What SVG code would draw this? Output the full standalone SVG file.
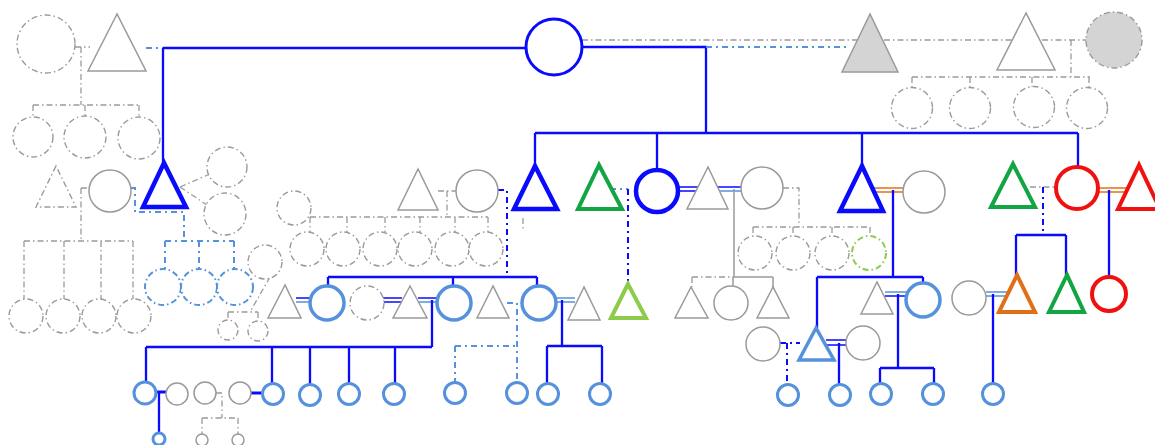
<svg xmlns="http://www.w3.org/2000/svg" width="1155" height="445" viewBox="0 0 1155 445">
  <style>
    .g   { fill: #fff; stroke: #9a9a9a; stroke-width: 1.5; }
    .gf  { fill: #d4d4d4; stroke: #9a9a9a; stroke-width: 1.5; }
    .gd  { fill: #fff; stroke: #9a9a9a; stroke-width: 1.4; stroke-dasharray: 6 3 1.5 3; }
    .gfd { fill: #d4d4d4; stroke: #9a9a9a; stroke-width: 1.4; stroke-dasharray: 6 3 1.5 3; }
    .lgd { fill: #fff; stroke: #8dcc4a; stroke-width: 2; stroke-dasharray: 6 3 1.5 3; }
    .b   { fill: #fff; stroke: #0a0aff; stroke-width: 4.5; }
    .bt  { fill: #fff; stroke: #0a0aff; stroke-width: 3; }
    .lb  { fill: #fff; stroke: #5591dc; stroke-width: 3.5; }
    .lbs { fill: #fff; stroke: #5591dc; stroke-width: 3; }
    .lbd { fill: #fff; stroke: #5591dc; stroke-width: 2; stroke-dasharray: 6 3 1.5 3; }
    .gr  { fill: #fff; stroke: #12a544; stroke-width: 4; }
    .lg  { fill: #fff; stroke: #8dcc4a; stroke-width: 4; }
    .rd  { fill: #fff; stroke: #f01010; stroke-width: 4; }
    .or  { fill: #fff; stroke: #e07018; stroke-width: 4; }
    .cb  { fill: none; stroke: #0a0aff; stroke-width: 2.3; }
    .cbk { fill: none; stroke: #0a0aff; stroke-width: 3; }
    .cbd { fill: none; stroke: #0a0aff; stroke-width: 2; stroke-dasharray: 6 4 2 4; }
    .clb { fill: none; stroke: #5591dc; stroke-width: 2; stroke-dasharray: 6 4 2 4; }
    .cg  { fill: none; stroke: #9a9a9a; stroke-width: 1.3; stroke-dasharray: 6 3 1.5 3; }
    .cgs { fill: none; stroke: #9a9a9a; stroke-width: 1.5; }
    .dbb { fill: none; stroke: #0a0aff; stroke-width: 1.5; }
    .dbl { fill: none; stroke: #5591dc; stroke-width: 1.5; }
    .dbo { fill: none; stroke: #e07018; stroke-width: 1.5; }
  </style>

  <!-- connectors -->
  <g id="connectors">
    <!-- top generation -->
    <path class="clb" d="M146,48 H163"/>
    <path class="cb" d="M163,48 H526 M163,48 V163"/>
    <path class="cb" d="M582,47 H706 V133"/>
    <path class="cg" d="M582,40 H858"/>
    <path class="clb" d="M706,47 H850"/>
    <path class="cg" d="M884,40 H1012"/>
    <path class="cb" d="M535,133 H1078 M535,133 V166 M657,133 V170 M862,133 V166 M1078,133 V167"/>

    <!-- top-left family -->
    <path class="cg" d="M75,47 H90 M81,47 V105 M33,105 H139 M33,105 V117 M85,105 V116 M139,105 V117"/>
    <!-- top-right family -->
    <path class="cg" d="M1042,40 H1086 M1071,40 V77 M912,77 H1090 M912,77 V88 M970,77 V88 M1032,77 V87 M1089,77 V88"/>

    <!-- left second generation -->
    <path class="cg" d="M81,188 H89 M81,188 V241 M24,241 H133 M24,241 V299 M64,241 V299 M101,241 V299 M133,241 V299"/>
    <path class="clb" d="M131,188 H135 V212 H184 V241 M165,241 H234 M165,241 V269 M199,241 V269 M234,241 V269"/>
    <path class="cg" d="M180,187 L210,174 M180,187 L207,205"/>
    <path class="cg" d="M270,277 L250,312 M228,312 H258 M228,312 V320 M258,312 V321"/>

    <!-- middle-left family -->
    <path class="cg" d="M438,191 H456 M447,191 V217 M310,217 H488 M310,217 V232 M347,217 V232 M385,217 V232 M420,217 V232 M455,217 V232 M488,217 V232"/>
    <path class="cbd" d="M498,190 H507 V277"/>
    <path class="cg" d="M523,218 V229"/>
    <path class="cb" d="M328,277 H537 M328,277 V286 M453,277 V286 M537,277 V286"/>

    <!-- third generation couples -->
    <path class="dbb" d="M296,298 H312"/>
    <path class="dbl" d="M296,302 H312"/>
    <path class="dbb" d="M383,298 H402 M383,302 H402"/>
    <path class="dbb" d="M418,298 H438"/>
    <path class="dbl" d="M418,302 H438"/>
    <path class="cb" d="M432,300 V347 M146,347 H432 M146,347 V382 M272,347 V383 M310,347 V384 M349,347 V383 M395,347 V383"/>
    <path class="clb" d="M507,303 H517 V382 M455,346 H517 M455,346 V382"/>
    <path class="dbl" d="M556,298 H575 M556,302 H575"/>
    <path class="cb" d="M562,300 V346 M547,346 H602 M547,346 V384 M602,346 V384"/>

    <!-- bottom-left couples -->
    <path class="cbk" d="M156,392 H167"/>
    <path class="cb" d="M159,392 V432"/>
    <path class="cbk" d="M251,393 H263"/>
    <path class="cg" d="M216,393 H222 V418 M202,418 H238 M202,418 V434 M238,418 V434"/>

    <!-- middle family -->
    <path class="clb" d="M610,189 H628"/>
    <path class="cbd" d="M628,189 V283"/>
    <path class="dbb" d="M678,187 H700 M678,191 H700"/>
    <path class="dbb" d="M716,187 H742"/>
    <path class="dbl" d="M716,191 H742"/>
    <path class="cgs" d="M734,189 V277 M733,277 H773 M733,277 V286 M773,277 V287"/>
    <path class="cg" d="M692,277 H733 M692,277 V287"/>
    <path class="cg" d="M783,188 H799 V227 M753,227 H870 M753,227 V236 M793,227 V236 M832,227 V236 M870,227 V236"/>

    <!-- right-middle family -->
    <path class="dbo" d="M872,188 H903 M872,192 H903"/>
    <path class="cb" d="M893,190 V277 M817,277 H923 M817,277 V328 M923,277 V283"/>
    <path class="dbl" d="M885,292 H907"/>
    <path class="dbb" d="M885,296 H907"/>
    <path class="cb" d="M898,294 V368 M880,368 H934 M880,368 V384 M934,368 V384"/>
    <path class="cbd" d="M780,343 H800 M787,343 V384"/>
    <path class="dbb" d="M826,340 H847 M826,345 H847"/>
    <path class="cb" d="M839,343 V384"/>

    <!-- right family -->
    <path class="dbl" d="M986,292 H1008 M986,296 H1008"/>
    <path class="cb" d="M993,294 V383"/>
    <path class="cg" d="M1030,187 H1055"/>
    <path class="cbd" d="M1043,187 V235"/>
    <path class="cb" d="M1016,235 H1066 M1016,235 V275 M1066,235 V275"/>
    <path class="dbo" d="M1097,188 H1127 M1097,192 H1127"/>
    <path class="cb" d="M1109,190 V277"/>
  </g>

  <!-- first generation -->
  <g id="n-top-left-f"><circle class="gd" cx="46" cy="44" r="29"/></g>
  <g id="n-top-left-m"><polygon class="g" points="117,14 88,71 146,71"/></g>
  <g id="n-root"><circle class="bt" cx="554" cy="47" r="28"/></g>
  <g id="n-top-right-a"><polygon class="gf" points="870,14 842,72 898,72"/></g>
  <g id="n-top-right-m"><polygon class="g" points="1026,13 997,70 1055,70"/></g>
  <g id="n-top-right-f"><circle class="gfd" cx="1114" cy="40" r="28"/></g>

  <!-- children of the top corners -->
  <g id="n-tl-c1"><circle class="gd" cx="33" cy="137" r="20"/></g>
  <g id="n-tl-c2"><circle class="gd" cx="85" cy="137" r="21"/></g>
  <g id="n-tl-c3"><circle class="gd" cx="139" cy="138" r="21"/></g>
  <g id="n-tr-c1"><circle class="gd" cx="912" cy="108" r="20.5"/></g>
  <g id="n-tr-c2"><circle class="gd" cx="970" cy="108" r="20.5"/></g>
  <g id="n-tr-c3"><circle class="gd" cx="1034" cy="107" r="20.5"/></g>
  <g id="n-tr-c4"><circle class="gd" cx="1087" cy="108" r="20.5"/></g>

  <!-- second generation, left -->
  <g id="n-l-tri"><polygon class="gd" points="56,166 36,207 76,207"/></g>
  <g id="n-l-circ"><circle class="g" cx="110" cy="191" r="21"/></g>
  <g id="n-l-blue"><polygon class="b" points="164,163 143,207 186,207"/></g>
  <g id="n-l-c1"><circle class="gd" cx="26" cy="316" r="17"/></g>
  <g id="n-l-c2"><circle class="gd" cx="63" cy="316" r="17"/></g>
  <g id="n-l-c3"><circle class="gd" cx="99" cy="316" r="17"/></g>
  <g id="n-l-c4"><circle class="gd" cx="134" cy="316" r="17"/></g>
  <g id="n-lb-c1"><circle class="lbd" cx="163" cy="287" r="18"/></g>
  <g id="n-lb-c2"><circle class="lbd" cx="199" cy="287" r="18"/></g>
  <g id="n-lb-c3"><circle class="lbd" cx="235" cy="287" r="18"/></g>
  <g id="n-side-1"><circle class="gd" cx="227" cy="167" r="20"/></g>
  <g id="n-side-2"><circle class="gd" cx="225" cy="214" r="21"/></g>
  <g id="n-side-3"><circle class="gd" cx="294" cy="208" r="17"/></g>
  <g id="n-side-4"><circle class="gd" cx="265" cy="262" r="17"/></g>
  <g id="n-small-1"><circle class="gd" cx="228" cy="330" r="10"/></g>
  <g id="n-small-2"><circle class="gd" cx="258" cy="331" r="10"/></g>

  <!-- second generation, middle-left -->
  <g id="n-ml-tri"><polygon class="g" points="418,169 398,210 438,210"/></g>
  <g id="n-ml-circ"><circle class="g" cx="477" cy="191" r="21"/></g>
  <g id="n-ml-c1"><circle class="gd" cx="307" cy="249" r="17"/></g>
  <g id="n-ml-c2"><circle class="gd" cx="343" cy="249" r="17"/></g>
  <g id="n-ml-c3"><circle class="gd" cx="380" cy="249" r="17"/></g>
  <g id="n-ml-c4"><circle class="gd" cx="415" cy="249" r="17"/></g>
  <g id="n-ml-c5"><circle class="gd" cx="452" cy="249" r="17"/></g>
  <g id="n-ml-c6"><circle class="gd" cx="486" cy="249" r="17"/></g>
  <g id="n-son-1"><polygon class="b" points="535,166 514,209 557,209"/></g>

  <!-- second generation, middle -->
  <g id="n-green-1"><polygon class="gr" points="599,165 578,209 622,209"/></g>
  <g id="n-daughter-1"><circle class="b" cx="657" cy="191" r="21"/></g>
  <g id="n-m-tri"><polygon class="g" points="708,167 687,209 728,209"/></g>
  <g id="n-m-circ"><circle class="g" cx="762" cy="188" r="21"/></g>
  <g id="n-m-c1"><circle class="gd" cx="755" cy="253" r="17"/></g>
  <g id="n-m-c2"><circle class="gd" cx="793" cy="253" r="17"/></g>
  <g id="n-m-c3"><circle class="gd" cx="832" cy="253" r="17"/></g>
  <g id="n-m-c4"><circle class="lgd" cx="869" cy="253" r="17"/></g>

  <!-- second generation, right -->
  <g id="n-son-2"><polygon class="b" points="862,166 840,211 883,211"/></g>
  <g id="n-r-circ"><circle class="g" cx="924" cy="192" r="21"/></g>
  <g id="n-green-2"><polygon class="gr" points="1013,164 991,207 1035,207"/></g>
  <g id="n-red-circ"><circle class="rd" cx="1077" cy="188" r="21"/></g>
  <g id="n-red-tri"><polygon class="rd" points="1139,165 1118,209 1160,209"/></g>

  <!-- third generation -->
  <g id="n-t-1"><polygon class="g" points="285,285 268,318 301,318"/></g>
  <g id="n-t-2"><circle class="lb" cx="327" cy="303" r="17"/></g>
  <g id="n-t-3"><circle class="gd" cx="367" cy="303" r="17"/></g>
  <g id="n-t-4"><polygon class="g" points="410,286 393,318 427,318"/></g>
  <g id="n-t-5"><circle class="lb" cx="454" cy="303" r="17"/></g>
  <g id="n-t-6"><polygon class="g" points="493,286 477,318 509,318"/></g>
  <g id="n-t-7"><circle class="lb" cx="539" cy="303" r="17"/></g>
  <g id="n-t-8"><polygon class="g" points="584,287 568,320 600,320"/></g>
  <g id="n-t-9"><polygon class="lg" points="628,284 611,318 646,318"/></g>
  <g id="n-t-10"><polygon class="g" points="691,287 675,318 708,318"/></g>
  <g id="n-t-11"><circle class="g" cx="731" cy="303" r="17"/></g>
  <g id="n-t-12"><polygon class="g" points="773,287 757,318 789,318"/></g>
  <g id="n-t-13"><polygon class="g" points="877,282 861,314 893,314"/></g>
  <g id="n-t-14"><circle class="lb" cx="923" cy="300" r="17"/></g>
  <g id="n-t-15"><circle class="g" cx="969" cy="298" r="17"/></g>
  <g id="n-t-16"><polygon class="or" points="1017,275 999,312 1035,312"/></g>
  <g id="n-t-17"><polygon class="gr" points="1067,275 1049,312 1084,312"/></g>
  <g id="n-t-18"><circle class="rd" cx="1109" cy="294" r="17"/></g>
  <g id="n-t-19"><circle class="g" cx="763" cy="344" r="17"/></g>
  <g id="n-t-20"><polygon class="lb" points="816,328 799,360 834,360"/></g>
  <g id="n-t-21"><circle class="g" cx="863" cy="343" r="17"/></g>

  <!-- fourth generation -->
  <g id="n-f-1"><circle class="lbs" cx="145" cy="393" r="11"/></g>
  <g id="n-f-2"><circle class="g" cx="177" cy="394" r="11"/></g>
  <g id="n-f-3"><circle class="g" cx="205" cy="393" r="11"/></g>
  <g id="n-f-4"><circle class="g" cx="240" cy="393" r="11"/></g>
  <g id="n-f-5"><circle class="lbs" cx="273" cy="394" r="10.5"/></g>
  <g id="n-f-6"><circle class="lbs" cx="310" cy="395" r="10.5"/></g>
  <g id="n-f-7"><circle class="lbs" cx="349" cy="394" r="10.5"/></g>
  <g id="n-f-8"><circle class="lbs" cx="394" cy="394" r="10.5"/></g>
  <g id="n-f-9"><circle class="lbs" cx="455" cy="393" r="10.5"/></g>
  <g id="n-f-10"><circle class="lbs" cx="517" cy="393" r="10.5"/></g>
  <g id="n-f-11"><circle class="lbs" cx="548" cy="394" r="10.5"/></g>
  <g id="n-f-12"><circle class="lbs" cx="600" cy="394" r="10.5"/></g>
  <g id="n-f-13"><circle class="lbs" cx="788" cy="395" r="10.5"/></g>
  <g id="n-f-14"><circle class="lbs" cx="840" cy="395" r="10.5"/></g>
  <g id="n-f-15"><circle class="lbs" cx="881" cy="394" r="10.5"/></g>
  <g id="n-f-16"><circle class="lbs" cx="933" cy="394" r="10.5"/></g>
  <g id="n-f-17"><circle class="lbs" cx="993" cy="394" r="10.5"/></g>

  <!-- fifth generation -->
  <g id="n-g-1"><circle class="lbs" cx="159" cy="439" r="6"/></g>
  <g id="n-g-2"><circle class="g" cx="202" cy="440" r="6"/></g>
  <g id="n-g-3"><circle class="g" cx="238" cy="440" r="6"/></g>
</svg>
